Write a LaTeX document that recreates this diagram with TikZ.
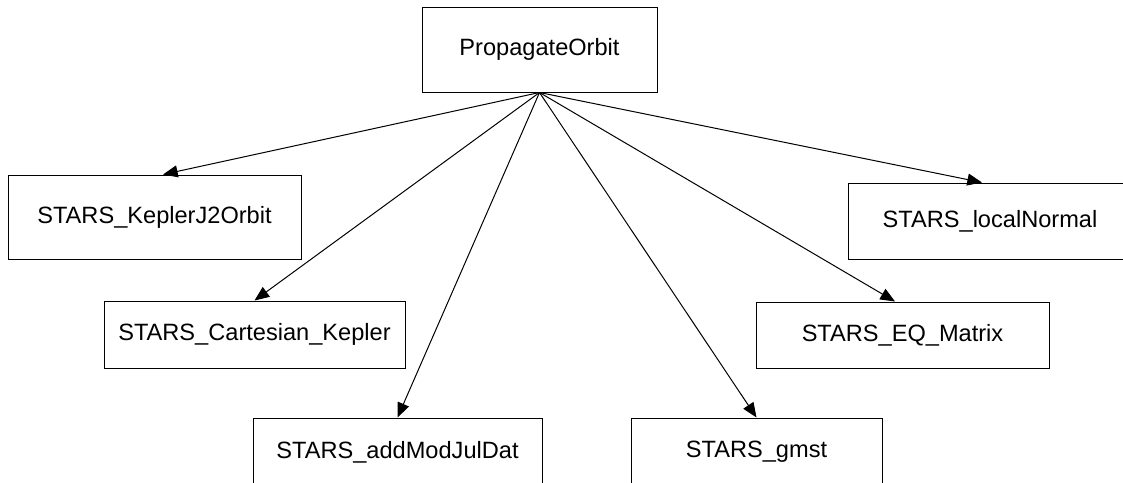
\documentclass[tikz,border=0pt]{standalone}
\usepackage{fontspec}
\setmainfont{Liberation Sans}
\usetikzlibrary{positioning,arrows.meta}

\begin{document}
\begin{tikzpicture}[x=0.75pt,y=-0.75pt,
                    line width=0.75pt,
                    func node/.style={rectangle,draw,inner sep=0pt,font=\fontsize{17.7}{20}\selectfont},
                    every edge/.style={draw,-{Triangle[length=11pt,width=9pt]}}
                   ]
  \clip (0,0) rectangle (1123,482);
  \node[func node,minimum width=176.25pt,minimum height=63.75pt] (po) at (539.5,49.5) {PropagateOrbit};
  \node[func node,minimum width=219.75pt,minimum height=63pt] (kep) at (154.5,217) {STARS\_KeplerJ2Orbit};
  \node[func node,minimum width=225.75pt,minimum height=50.25pt] (cart) at (254.5,334.5) {STARS\_Cartesian\_Kepler};
  \node[func node,minimum width=216.75pt,minimum height=51pt] (jul) at (397.5,452) {STARS\_addModJulDat};
  \node[func node,minimum width=188.25pt,minimum height=51pt] (gmst) at (756.5,452) {STARS\_gmst};
  \node[func node,minimum width=219.75pt,minimum height=49.5pt] (eq) at (902.5,335) {STARS\_EQ\_Matrix};
  \node[func node,minimum width=213pt,minimum height=57pt] (loc) at (990,221) {STARS\_localNormal};
    \path%
      (po.south) edge ([xshift=6.4pt]kep.north)
      (po.south) edge (cart.north)
      (po.south) edge (jul.north)
      (po.south) edge (gmst.north)
      (po.south) edge ([xshift=-5.6pt]eq.north)
      (po.south) edge ([xshift=-6pt]loc.north);
\end{tikzpicture}
\end{document}
